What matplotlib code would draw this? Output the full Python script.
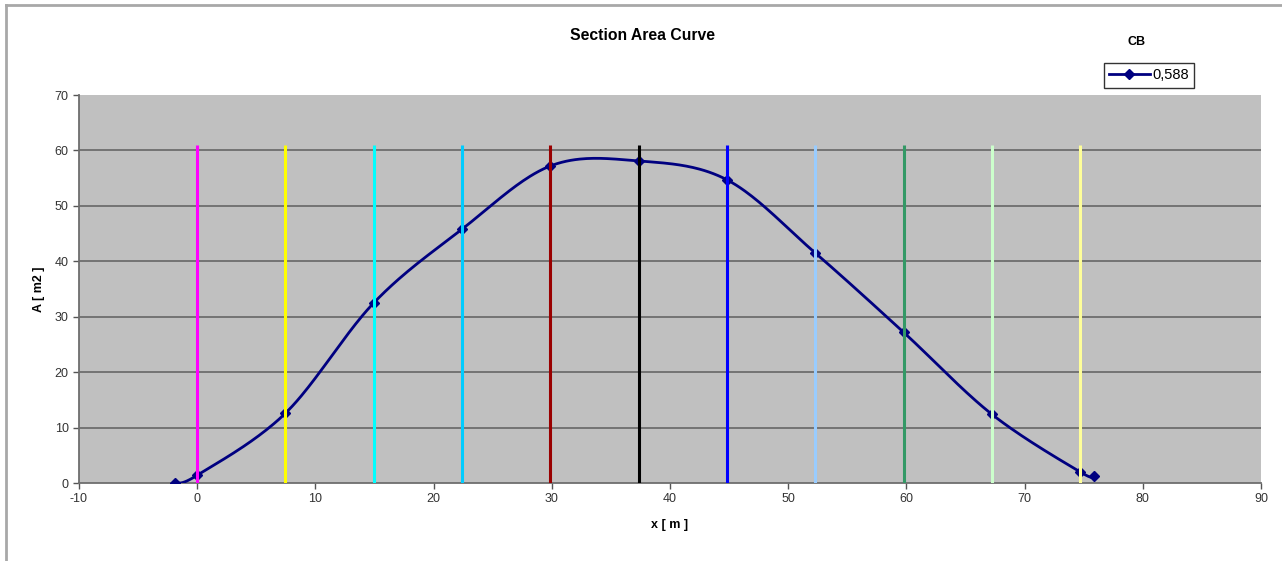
import numpy as np
import matplotlib
matplotlib.use("Agg")
import matplotlib.pyplot as plt
from matplotlib.lines import Line2D

plt.rcParams['font.family'] = ['Liberation Sans', 'DejaVu Sans']
plt.rcParams['axes.unicode_minus'] = False

# Sectional area curve (station x [m], area A [m2])
x_pts = [-1.9, 0.0, 7.47, 14.94, 22.41, 29.88, 37.35, 44.82, 52.29, 59.76, 67.23, 74.7, 75.9]
a_pts = [0.0, 1.4, 12.6, 32.5, 45.8, 57.2, 58.1, 54.7, 41.5, 27.2, 12.4, 2.0, 1.3]

# Station marker lines
stations = [0.0, 7.47, 14.94, 22.41, 29.88, 37.35, 44.82, 52.29, 59.76, 67.23, 74.7]
station_colors = ['#FF00FF', '#FFFF00', '#00FFFF', '#00CCFF', '#990000', '#000000',
                  '#0000FF', '#99CCFF', '#339966', '#CCFFCC', '#FFFF99']
station_top = 61

cb_label = '0,588'
x_ticks = list(range(-10, 100, 10))
y_ticks = list(range(0, 80, 10))


def smooth_curve(xs, ys, n=40):
    """Cubic Bezier smoothing through the points (Catmull-Rom style)."""
    P = np.column_stack([xs, ys]).astype(float)
    out = []
    for i in range(len(P) - 1):
        p0 = P[i - 1] if i > 0 else P[i]
        p1 = P[i]
        p2 = P[i + 1]
        p3 = P[i + 2] if i + 2 < len(P) else P[i + 1]
        c1 = p1 + (p2 - p0) / 6.0
        c2 = p2 - (p3 - p1) / 6.0
        t = np.linspace(0, 1, n)[:, None]
        seg = ((1 - t) ** 3) * p1 + 3 * ((1 - t) ** 2) * t * c1 + 3 * (1 - t) * t ** 2 * c2 + t ** 3 * p2
        out.append(seg if i == 0 else seg[1:])
    s = np.vstack(out)
    return s[:, 0], s[:, 1]


fig = plt.figure(figsize=(12.82, 5.61), dpi=100)
fig.patch.set_facecolor('white')
ax = fig.add_axes([79 / 1282, 1 - 483 / 561, (1261 - 79) / 1282, (483 - 95) / 561])
ax.set_facecolor('#C0C0C0')

ax.set_xlim(-10, 90)
ax.set_ylim(0, 70)
ax.set_xticks(x_ticks)
ax.set_yticks(y_ticks)
ax.tick_params(axis='both', labelsize=9, labelcolor='#333333', color='#555555',
               direction='out', length=4, width=1)
for yv in y_ticks[1:-1]:
    ax.axhline(yv, color='#6E6E6E', lw=1.3, zorder=1)

for side in ('top', 'right'):
    ax.spines[side].set_visible(False)
for side in ('left', 'bottom'):
    ax.spines[side].set_color('#6E6E6E')
    ax.spines[side].set_linewidth(1.3)

# Curve
sx, sy = smooth_curve(x_pts, a_pts)
ax.plot(sx, sy, color='#000080', lw=2.0, zorder=3, solid_capstyle='round')
ax.plot(x_pts, a_pts, ls='none', marker='D', ms=5, color='#000080', zorder=3)

# Station lines
for xs, c in zip(stations, station_colors):
    ax.vlines(xs, 0, station_top, colors=c, lw=2.2, zorder=4)

ax.set_xlabel('x [ m ]', fontsize=9, fontweight='bold', labelpad=10)
ax.set_ylabel('A [ m2 ]', fontsize=9, fontweight='bold', labelpad=7)

fig.text(643 / 1282, 1 - 35 / 561, 'Section Area Curve', ha='center', va='center',
         fontsize=11.3, fontweight='bold')
fig.text(1137 / 1282, 1 - 42 / 561, 'CB', ha='center', va='center',
         fontsize=9, fontweight='bold')

handle = Line2D([], [], color='#000080', lw=2.0, marker='D', ms=5)
leg = fig.legend([handle], [cb_label], loc='center',
                 bbox_to_anchor=(1149 / 1282, 1 - 75.5 / 561), frameon=True,
                 fancybox=False, edgecolor='black', fontsize=10.5,
                 handlelength=2.8, handletextpad=0.2, borderpad=0.35)
leg.get_frame().set_linewidth(1.0)

# Outer chart border (top and left edges)
fig.add_artist(Line2D([6 / 1282, 1.0], [1 - 5 / 561, 1 - 5 / 561], color='#A8A8A8',
                      lw=2, transform=fig.transFigure))
fig.add_artist(Line2D([6 / 1282, 6 / 1282], [0.0, 1 - 5 / 561], color='#A8A8A8',
                      lw=2, transform=fig.transFigure))

fig.savefig('out.png', dpi=100)
